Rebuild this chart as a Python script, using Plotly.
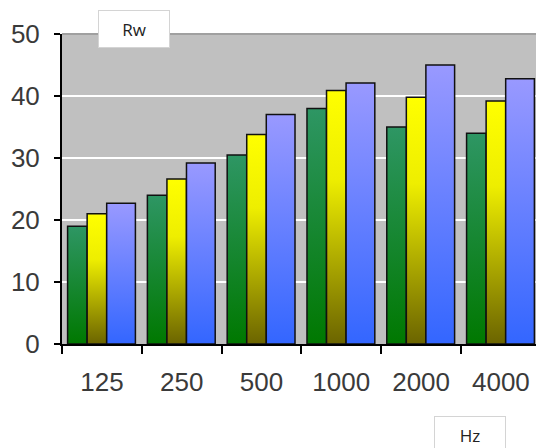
import plotly.graph_objects as go

categories = ["125", "250", "500", "1000", "2000", "4000"]
series_green = [19.0, 24.0, 30.5, 38.0, 35.0, 34.0]
series_yellow = [21.0, 26.6, 33.8, 40.9, 39.8, 39.2]
series_purple = [22.7, 29.2, 37.0, 42.1, 45.0, 42.8]
y_ticks = [0, 10, 20, 30, 40, 50]

fig = go.Figure()
specs = [
    (series_green, "#2E9664", -0.43, 0.245),
    (series_yellow, "#FFFF00", -0.185, 0.245),
    (series_purple, "#9999FF", 0.06, 0.36),
]
for vals, col, off, w in specs:
    fig.add_trace(go.Bar(
        x=categories, y=vals, offset=off, width=w,
        marker=dict(color=col, line=dict(color="#111111", width=1.5)),
        showlegend=False, hoverinfo="skip",
    ))

fig.update_layout(
    width=536, height=448,
    margin=dict(l=62, r=0, t=34, b=104),
    paper_bgcolor="white", plot_bgcolor="#C0C0C0",
    barmode="overlay",
    font=dict(family="Liberation Sans, Arial, sans-serif", color="#3a3a3a"),
    xaxis=dict(
        type="category", range=[-0.5, 5.44],
        showline=True, linecolor="black", linewidth=2,
        ticks="outside", tickson="boundaries", ticklen=8, tickwidth=2, tickcolor="black",
        tickfont=dict(size=26, color="#3a3a3a"), ticklabelstandoff=14,
        showgrid=False,
    ),
    yaxis=dict(
        range=[0, 50], tickvals=y_ticks,
        showline=True, linecolor="black", linewidth=2,
        ticks="outside", ticklen=6, tickwidth=2, tickcolor="black",
        tickfont=dict(size=26, color="#3a3a3a"), ticklabelstandoff=9,
        showgrid=True, gridcolor="white", gridwidth=2, zeroline=False,
    ),
    shapes=[dict(type="line", xref="paper", yref="paper", x0=0, x1=1, y0=1, y1=1,
                 line=dict(color="#A0A0A0", width=2))],
    annotations=[
        dict(text="Rw", xref="paper", yref="paper", x=(134 - 62) / 474, y=(344 - 29) / 310,
             xanchor="center", yanchor="middle", showarrow=False,
             width=70, height=36, bgcolor="white", bordercolor="#D4D4D4", borderwidth=1,
             borderpad=0, font=dict(family="Open Sans, sans-serif", size=17, color="#222")),
        dict(text="Hz", xref="paper", yref="paper", x=(469.5 - 62) / 474, y=(344 - 435) / 310,
             xanchor="center", yanchor="middle", showarrow=False,
             width=70, height=36, bgcolor="white", bordercolor="#D4D4D4", borderwidth=1,
             borderpad=0, font=dict(family="Open Sans, sans-serif", size=17, color="#222")),
    ],
)

post = """
document.body.style.margin='0';
document.body.style.overflow='hidden';
var gd = document.getElementById('{plot_id}');
function applyGrad(){
  var svg = gd.querySelector('.main-svg');
  if(!svg) return;
  var defs = svg.querySelector('defs');
  var grads = [['gradG',[['0','#2E9664'],['1','#007800']]],
               ['gradY',[['0','#FFFF00'],['0.35','#EEEE00'],['1','#6B6400']]],
               ['gradP',[['0','#9999FF'],['1','#3366FF']]]];
  grads.forEach(function(g){
    if(!document.getElementById(g[0])){
      var ns='http://www.w3.org/2000/svg';
      var lg=document.createElementNS(ns,'linearGradient');
      lg.setAttribute('id',g[0]);
      lg.setAttribute('x1','0');lg.setAttribute('y1','0');
      lg.setAttribute('x2','0');lg.setAttribute('y2','1');
      g[1].forEach(function(s){
        var st=document.createElementNS(ns,'stop');
        st.setAttribute('offset',s[0]);st.setAttribute('stop-color',s[1]);
        lg.appendChild(st);
      });
      defs.appendChild(lg);
    }
  });
  var traces = gd.querySelectorAll('.barlayer .trace');
  traces.forEach(function(t,i){
    if(i>=grads.length) return;
    t.querySelectorAll('path').forEach(function(p){ p.style.fill='url(#'+grads[i][0]+')'; });
  });
}
applyGrad();
gd.on('plotly_afterplot', applyGrad);
"""

fig.write_html("out.html", post_script=post, config={"displayModeBar": False})
